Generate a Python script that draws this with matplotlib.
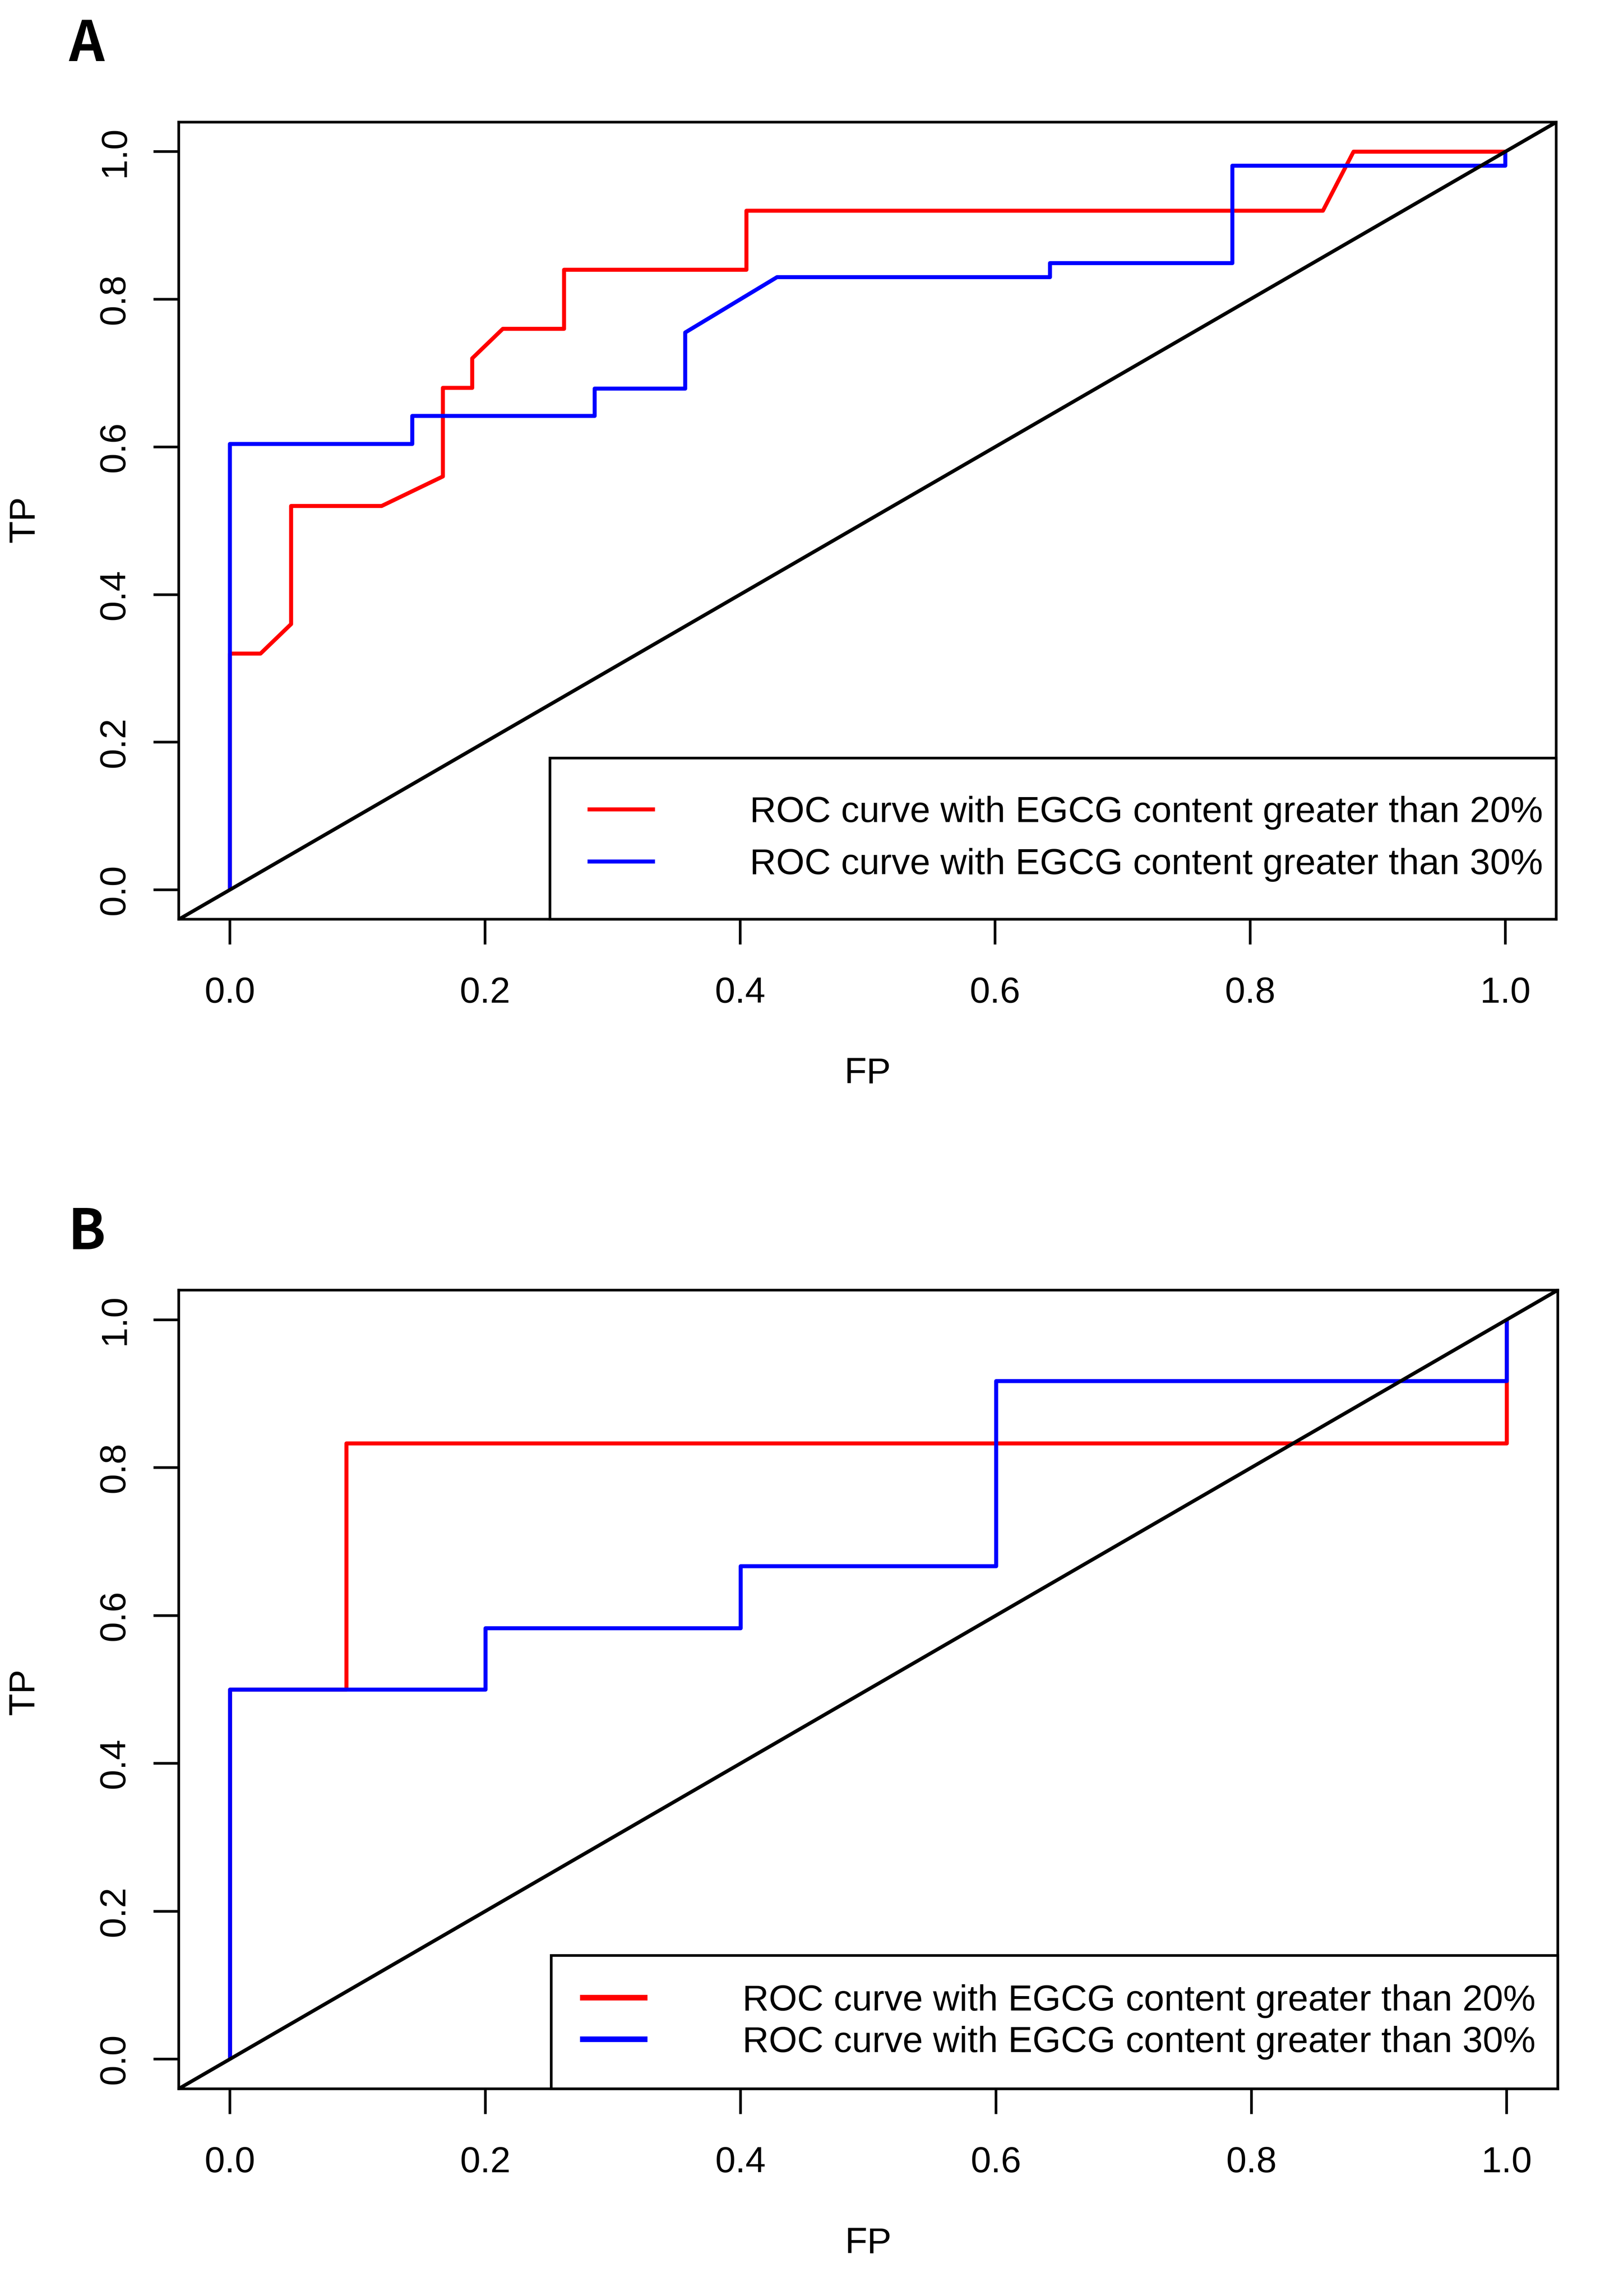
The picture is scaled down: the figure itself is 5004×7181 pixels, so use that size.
import matplotlib
matplotlib.use("Agg")
import matplotlib.pyplot as plt

plt.rcParams['font.family'] = ['Liberation Sans', 'DejaVu Sans']

# ---------------- data ----------------
# Panel A
fp_a_20 = [0.0, 0.0, 0.024, 0.048, 0.048, 0.119, 0.167, 0.167, 0.190, 0.190,
           0.214, 0.262, 0.262, 0.405, 0.405, 0.857, 0.881, 1.0]
tp_a_20 = [0.0, 0.32, 0.32, 0.36, 0.52, 0.52, 0.56, 0.68, 0.68, 0.72,
           0.76, 0.76, 0.84, 0.84, 0.92, 0.92, 1.0, 1.0]
fp_a_30 = [0.0, 0.0, 0.143, 0.143, 0.286, 0.286, 0.357, 0.357, 0.429, 0.643,
           0.643, 0.786, 0.786, 1.0, 1.0]
tp_a_30 = [0.0, 0.604, 0.604, 0.642, 0.642, 0.679, 0.679, 0.755, 0.830, 0.830,
           0.849, 0.849, 0.981, 0.981, 1.0]
# Panel B
fp_b_20 = [0.0, 0.0, 0.091, 0.091, 1.0, 1.0]
tp_b_20 = [0.0, 0.5, 0.5, 0.833, 0.833, 1.0]
fp_b_30 = [0.0, 0.0, 0.2, 0.2, 0.4, 0.4, 0.6, 0.6, 1.0, 1.0]
tp_b_30 = [0.0, 0.5, 0.5, 0.583, 0.583, 0.667, 0.667, 0.917, 0.917, 1.0]

ticks = [0.0, 0.2, 0.4, 0.6, 0.8, 1.0]
tick_labels = ["0.0", "0.2", "0.4", "0.6", "0.8", "1.0"]
series_labels = ["ROC curve with EGCG content greater than 20%",
                 "ROC curve with EGCG content greater than 30%"]
series_colors = ["#FF0000", "#0000FF"]
panel_letters = ["A", "B"]

FS = 13.7
CURVE_LW = 1.5
W, H, DPI = 5004, 7181, 600
fig = plt.figure(figsize=(W / DPI, H / DPI), dpi=DPI)

axA = fig.add_axes([0.1118, 0.5996, 0.9727 - 0.1118, 0.9468 - 0.5996])
axB = fig.add_axes([0.1118, 0.0903, 0.9736 - 0.1118, 0.4381 - 0.0903])


def style_axes(ax, ylab_y):
    ax.set_xlim(-0.04, 1.04)
    ax.set_ylim(-0.04, 1.04)
    ax.set_xticks(ticks)
    ax.set_xticklabels(tick_labels)
    ax.set_yticks(ticks)
    ax.set_yticklabels(tick_labels)
    ax.tick_params(axis='both', direction='out', length=9.5, width=1.0,
                   labelsize=FS, color='black')
    ax.tick_params(axis='x', pad=12.0)
    ax.tick_params(axis='y', pad=8.1)
    for lab in ax.get_yticklabels():
        lab.set_rotation(90)
        lab.set_va('center')
        lab.set_ha('right')
    for s in ax.spines.values():
        s.set_linewidth(1.0)
        s.set_color('black')
    ax.set_xlabel("FP", fontsize=FS, va='center')
    ax.set_ylabel("TP", fontsize=FS, va='center')
    ax.xaxis.set_label_coords(0.5, -0.194)
    ax.yaxis.set_label_coords(-0.112, ylab_y)


def add_legend(ax, lw, borderpad, labelspacing, x0):
    handles = [plt.Line2D([], [], color=c, lw=lw, solid_capstyle='butt')
               for c in series_colors]
    leg = ax.legend(handles, series_labels, loc='lower left',
                    bbox_to_anchor=(x0, 0.0, 1.0 - x0, 0.3), mode='expand',
                    borderaxespad=0.0, fontsize=FS, handlelength=1.85,
                    handletextpad=2.6, borderpad=borderpad,
                    labelspacing=labelspacing, fancybox=False, framealpha=1.0,
                    edgecolor='black')
    leg.get_frame().set_linewidth(1.0)
    return leg


# Panel A
axA.plot(fp_a_20, tp_a_20, color=series_colors[0], lw=CURVE_LW, solid_capstyle='butt')
axA.plot(fp_a_30, tp_a_30, color=series_colors[1], lw=CURVE_LW, solid_capstyle='butt')
axA.axline((0, 0), (1, 1), color='black', lw=1.35, zorder=3)
style_axes(axA, 0.502)
add_legend(axA, CURVE_LW, 1.03, 0.5, 0.2693)

# Panel B
axB.plot(fp_b_20, tp_b_20, color=series_colors[0], lw=CURVE_LW, solid_capstyle='butt')
axB.plot(fp_b_30, tp_b_30, color=series_colors[1], lw=CURVE_LW, solid_capstyle='butt')
axB.axline((0, 0), (1, 1), color='black', lw=1.35, zorder=3)
style_axes(axB, 0.497)
add_legend(axB, 2.1, 0.79, 0.21, 0.270)

for letter, y in zip(panel_letters, [0.9805, 0.463]):
    fig.text(0.0542, y, letter, fontsize=20.8, ha='center', va='center',
             family=['Noto Sans CJK SC', 'DejaVu Sans'], weight='bold')

fig.savefig("out.png", dpi=DPI, facecolor='white')
